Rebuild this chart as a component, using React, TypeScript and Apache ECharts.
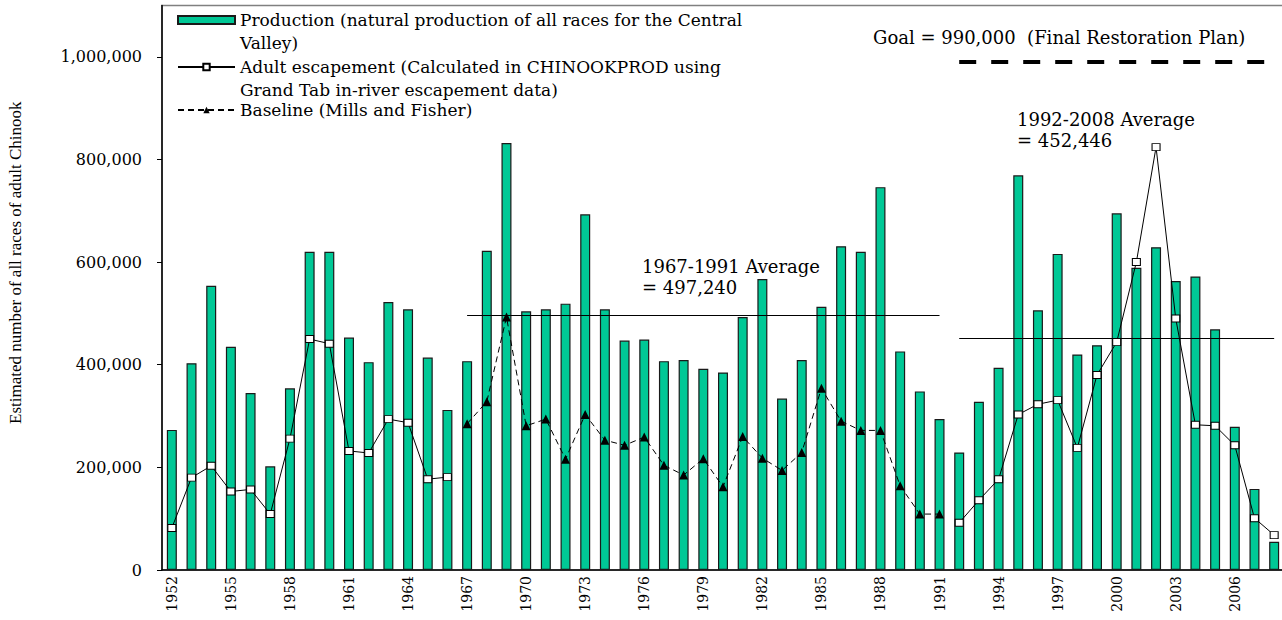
import React, { useEffect, useRef } from "react";
import * as echarts from "echarts";

const years: string[] = [];
for (let y = 1952; y <= 2008; y++) years.push(String(y));

const production = [
  273000, 403000, 554000, 435000, 345000, 202000, 354000, 620000, 620000, 453000,
  405000, 522000, 508000, 414000, 312000, 407000, 622000, 832000, 504000, 508000,
  519000, 693000, 508000, 447000, 449000, 407000, 409000, 392000, 385000, 493000,
  567000, 334000, 409000, 513000, 631000, 620000, 746000, 426000, 348000, 294000,
  229000, 328000, 394000, 769000, 506000, 616000, 420000, 438000, 695000, 589000,
  629000, 563000, 572000, 469000, 279000, 158000, 55000,
];

const escapementEarly = [
  82000, 180000, 203000, 153000, 157000, 109000, 256000, 450000, 441000, 232000,
  228000, 294000, 287000, 177000, 181000,
];
const escapementLate = [
  92000, 136000, 177000, 303000, 323000, 331000, 238000, 380000, 444000, 600000,
  824000, 490000, 283000, 281000, 243000, 101000, 68000,
];
const baselineValues = [
  285000, 328000, 493000, 281000, 294000, 216000, 303000, 253000, 243000, 259000,
  204000, 185000, 217000, 162000, 260000, 218000, 194000, 229000, 354000, 290000,
  272000, 272000, 164000, 109000, 109000,
];

const yTickValues = [0, 200000, 400000, 600000, 800000, 1000000];
const avg1967 = 497240;
const avg1992 = 452446;
const goal = 990000;

const escapement = [
  ...escapementEarly,
  ...new Array(25).fill(null),
  ...escapementLate,
];
const baseline = [
  ...new Array(15).fill(null),
  ...baselineValues,
  ...new Array(17).fill(null),
];

const nameProd = "Production (natural production of all races for the Central Valley)";
const nameEsc = "Adult escapement (Calculated in CHINOOKPROD using Grand Tab in-river escapement data)";
const nameBase = "Baseline (Mills and Fisher)";
const legendText: Record<string, string> = {
  [nameProd]: " \nProduction (natural production of all races for the Central\nValley)",
  [nameEsc]: " \nAdult escapement (Calculated in CHINOOKPROD using\nGrand Tab in-river escapement data)",
  [nameBase]: "Baseline (Mills and Fisher)",
};

const SERIF = "DejaVu Serif";
const LH = 22.5;

const legendBase = {
  orient: "vertical",
  left: 177,
  padding: 0,
  itemWidth: 57,
  itemHeight: 8,
  textStyle: { fontFamily: SERIF, fontSize: 17, color: "#000", lineHeight: LH },
  formatter: (n: string) => legendText[n] || n,
};

export default function App() {
  const ref = useRef<HTMLDivElement>(null);
  useEffect(() => {
    if (!ref.current) return;
    const chart = echarts.init(ref.current, undefined, { renderer: "svg" });
    chart.setOption({
      animation: false,
      backgroundColor: "#fff",
      grid: {
        left: 162,
        right: -2,
        top: 5.5,
        bottom: 50,
        show: true,
        borderColor: "#808080",
        borderWidth: 1.5,
        outerBoundsMode: "none",
      },
      legend: [
        { ...legendBase, top: 20 - 1.5 * LH, data: [{ name: nameProd, icon: "rect" }] },
        { ...legendBase, top: 67 - 1.5 * LH, data: [{ name: nameEsc }] },
        { ...legendBase, top: 110 - 0.5 * LH, data: [{ name: nameBase }] },
      ],
      xAxis: {
        type: "category",
        data: years,
        boundaryGap: true,
        axisLine: { lineStyle: { color: "#000", width: 1.5 } },
        axisTick: { interval: 0, length: 5, lineStyle: { color: "#000" } },
        axisLabel: {
          interval: 2,
          rotate: 90,
          margin: 6,
          fontFamily: SERIF,
          fontSize: 14,
          color: "#000",
        },
      },
      yAxis: {
        type: "value",
        min: 0,
        max: 1100000,
        interval: 200000,
        name: "Estimated number of all races of adult Chinook",
        nameLocation: "middle",
        nameRotate: 90,
        nameGap: 138,
        nameTextStyle: {
          fontFamily: "Liberation Serif",
          fontSize: 17,
          color: "#000",
          padding: [0, 0, 0, 50],
        },
        axisLine: { show: true, lineStyle: { color: "#000", width: 1.5 } },
        axisTick: {
          show: true,
          length: 5,
          customValues: yTickValues,
          lineStyle: { color: "#000" },
        },
        splitLine: { show: false },
        axisLabel: {
          margin: 20,
          fontFamily: SERIF,
          fontSize: 16,
          color: "#000",
          customValues: yTickValues,
          formatter: (v: number) => v.toLocaleString("en-US"),
        },
      },
      series: [
        {
          name: nameProd,
          type: "bar",
          data: production,
          barWidth: 10,
          itemStyle: { color: "#00C896", borderColor: "#1a1a1a", borderWidth: 1.2 },
          markLine: {
            silent: true,
            symbol: "none",
            label: { show: false },
            lineStyle: { color: "#000", width: 1, type: "solid" },
            data: [
              [{ coord: ["1967", avg1967] }, { coord: ["1991", avg1967] }],
              [{ coord: ["1992", avg1992] }, { coord: ["2008", avg1992] }],
              [
                { coord: ["1992", goal], lineStyle: { type: [17, 15], width: 4, color: "#000" } },
                { coord: ["2008", goal] },
              ],
            ],
          },
        },
        {
          name: nameEsc,
          type: "line",
          data: escapement,
          symbol: "rect",
          symbolSize: [8, 7],
          showAllSymbol: true,
          lineStyle: { color: "#000", width: 1 },
          itemStyle: { color: "#fff", borderColor: "#000", borderWidth: 1 },
          z: 3,
        },
        {
          name: nameBase,
          type: "line",
          data: baseline,
          symbol: "triangle",
          symbolSize: 9,
          showAllSymbol: true,
          lineStyle: { color: "#000", width: 1, type: [6, 4] },
          itemStyle: { color: "#000" },
          z: 3,
        },
      ],
      graphic: [
        {
          type: "text",
          left: 873,
          top: 28,
          style: {
            text: "Goal = 990,000  (Final Restoration Plan)",
            fontFamily: SERIF,
            fontSize: 18,
            fill: "#000",
          },
        },
        {
          type: "text",
          left: 642,
          top: 256,
          style: {
            text: "1967-1991 Average\n= 497,240",
            fontFamily: SERIF,
            fontSize: 18,
            lineHeight: 21,
            fill: "#000",
          },
        },
        {
          type: "text",
          left: 1017,
          top: 109,
          style: {
            text: "1992-2008 Average\n= 452,446",
            fontFamily: SERIF,
            fontSize: 18,
            lineHeight: 21,
            fill: "#000",
          },
        },
      ],
    });
    return () => chart.dispose();
  }, []);
  return (
    <div
      ref={ref}
      style={{ position: "absolute", left: 0, top: 0, width: 1282, height: 620 }}
    />
  );
}
